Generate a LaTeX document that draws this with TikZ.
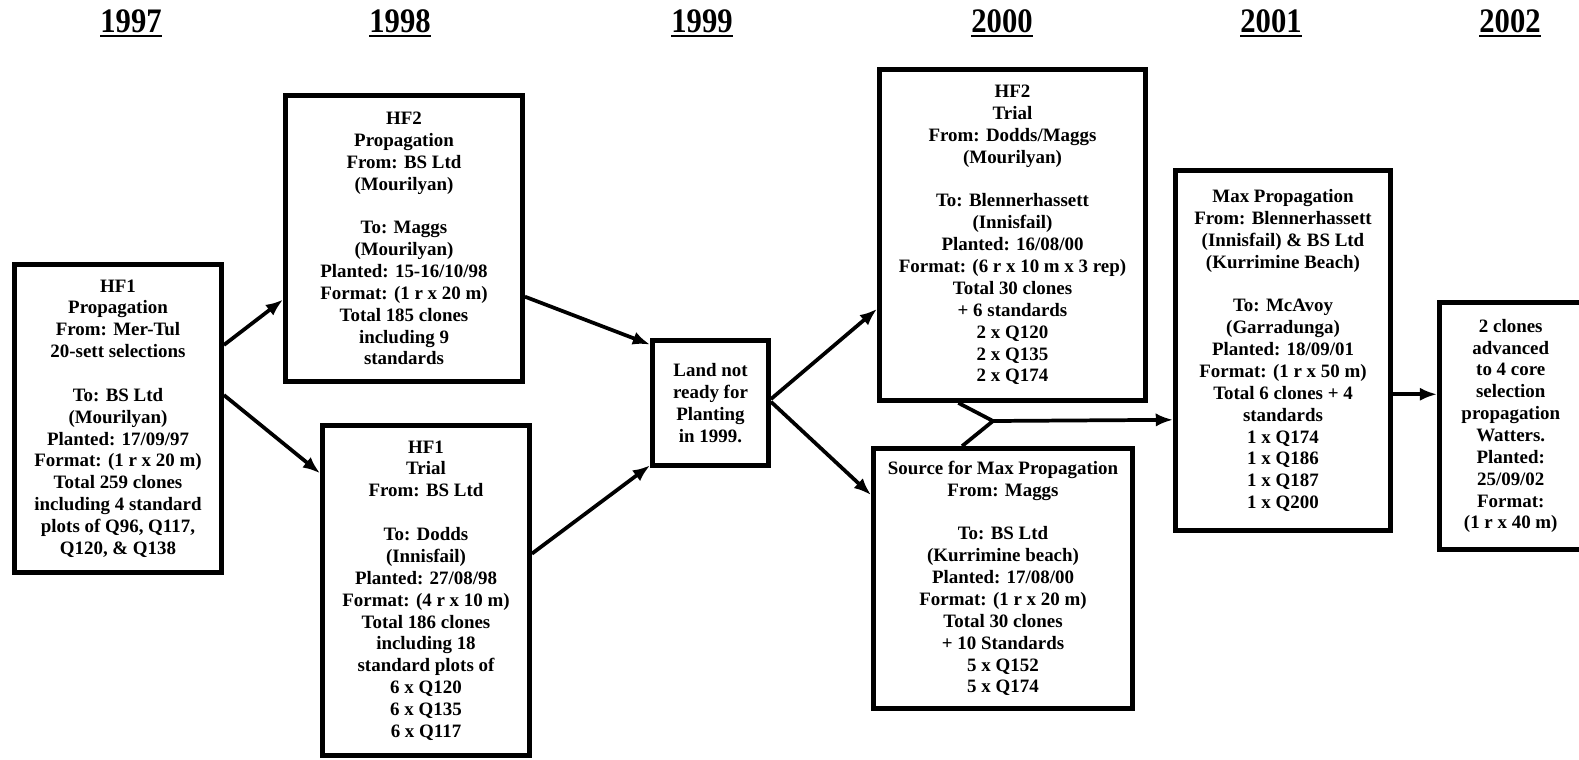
\documentclass[tikz,border=0pt]{standalone}
\usepackage{fontspec}
\setmainfont{Liberation Serif}
\usetikzlibrary{arrows.meta,calc}
\begin{document}
\begin{tikzpicture}[x=0.75pt,y=-0.75pt,
    box/.style={draw,line width=3.6pt,align=center,inner sep=0pt,font=\bfseries\fontsize{14.2}{16.4}\selectfont},
    flow/.style={line width=2.8pt,-{Latex[length=13pt,width=10pt]}},
    link/.style={line width=2.8pt},
    year/.style={font=\bfseries\fontsize{23}{26}\selectfont,inner sep=0pt,anchor=base},
    yearline/.style={line width=2.2pt}]
\useasboundingbox (0,0) rectangle (1579,760);
\foreach \yr/\xx in {1997/131,1998/400,1999/702,2000/1002,2001/1271,2002/1510}{
  \node[year] (y\yr) at (\xx,32) {\scalebox{1}[1.12]{\yr}};
  \draw[yearline] ([yshift=-3pt]y\yr.base west) -- ([yshift=-3pt]y\yr.base east);
}
\node[box,minimum width=155.25pt,minimum height=231pt] (hfoneprop) at (118,418.5)
  {HF1\\Propagation\\From: Mer-Tul\\20-sett selections\\[\baselineskip]To: BS Ltd\\(Mourilyan)\\Planted: 17/09/97\\Format: (1 r x 20 m)\\Total 259 clones\\including 4 standard\\plots of Q96, Q117,\\Q120, \& Q138};
\node[box,minimum width=177.75pt,minimum height=214.5pt] (hftwoprop) at (404,238.5)
  {HF2\\Propagation\\From: BS Ltd\\(Mourilyan)\\[\baselineskip]To: Maggs\\(Mourilyan)\\Planted: 15-16/10/98\\Format: (1 r x 20 m)\\Total 185 clones\\including 9\\standards};
\node[box,minimum width=155.25pt,minimum height=247.5pt] (hfonetrial) at (426,590.5)
  {HF1\\Trial\\From: BS Ltd\\[\baselineskip]To: Dodds\\(Innisfail)\\Planted: 27/08/98\\Format: (4 r x 10 m)\\Total 186 clones\\including 18\\standard plots of\\6 x Q120\\6 x Q135\\6 x Q117};
\node[box,minimum width=87pt,minimum height=93.75pt] (land) at (710.5,403)
  {Land not\\ready for\\Planting\\in 1999.};
\node[box,minimum width=199.5pt,minimum height=248.25pt] (hftwotrial) at (1012.5,235)
  {HF2\\Trial\\From: Dodds/Maggs\\(Mourilyan)\\[\baselineskip]To: Blennerhassett\\(Innisfail)\\Planted: 16/08/00\\Format: (6 r x 10 m x 3 rep)\\Total 30 clones\\+ 6 standards\\2 x Q120\\2 x Q135\\2 x Q174};
\node[box,minimum width=194.25pt,minimum height=195pt] (source) at (1003,578.5)
  {Source for Max Propagation\\From: Maggs\\[\baselineskip]To: BS Ltd\\(Kurrimine beach)\\Planted: 17/08/00\\Format: (1 r x 20 m)\\Total 30 clones\\+ 10 Standards\\5 x Q152\\5 x Q174};
\node[box,minimum width=161.25pt,minimum height=270pt] (maxprop) at (1283,350.5)
  {Max Propagation\\From: Blennerhassett\\(Innisfail) \& BS Ltd\\(Kurrimine Beach)\\[\baselineskip]To: McAvoy\\(Garradunga)\\Planted: 18/09/01\\Format: (1 r x 50 m)\\Total 6 clones + 4\\standards\\1 x Q174\\1 x Q186\\1 x Q187\\1 x Q200};
\node[box,minimum width=106.9pt,minimum height=185.25pt] (final) at (1510.75,426)
  {2 clones\\advanced\\to 4 core\\selection\\propagation\\Watters.\\Planted:\\25/09/02\\Format:\\(1 r x 40 m)};
\draw[flow] ($(hfoneprop.north east)!0.265!(hfoneprop.south east)$) -- ($(hftwoprop.north west)!0.71!(hftwoprop.south west)$);
\draw[flow] ($(hfoneprop.north east)!0.425!(hfoneprop.south east)$) -- ($(hfonetrial.north west)!0.15!(hfonetrial.south west)$);
\draw[flow] ($(hftwoprop.north east)!0.70!(hftwoprop.south east)$) -- ($(land.north west)!0.05!(land.south west)$);
\draw[flow] ($(hfonetrial.north east)!0.39!(hfonetrial.south east)$) -- ($(land.north west)!0.98!(land.south west)$);
\draw[flow] ($(land.north east)!0.47!(land.south east)$) -- ($(hftwotrial.north west)!0.72!(hftwotrial.south west)$);
\draw[flow] ($(land.north east)!0.49!(land.south east)$) -- ($(source.north west)!0.185!(source.south west)$);
\coordinate (join) at (993,421);
\draw[link] ($(hftwotrial.south west)!0.30!(hftwotrial.south east)$) -- (join) -- ($(source.north west)!0.345!(source.north east)$);
\draw[flow] (join) -- ($(maxprop.north west)!0.69!(maxprop.south west)$);
\coordinate (maxout) at ($(maxprop.north east)!0.62!(maxprop.south east)$);
\draw[flow] (maxout) -- (maxout -| final.west);
\end{tikzpicture}
\end{document}
